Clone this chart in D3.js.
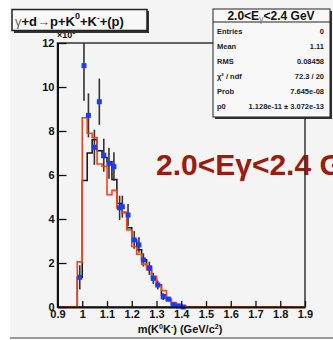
<!DOCTYPE html>
<html>
<head>
	<meta charset="utf-8">
	<title>K0 K- mass</title>
</head>
<style>
	body { margin:0; background:#fff; }
	svg { display:block; font-family:"Liberation Sans", Arial, sans-serif; }
</style>
<body>
<script src="https://cdn.jsdelivr.net/npm/d3@7"></script>
<svg width="333" height="340"></svg>
<script>

	// bins of 0.02 GeV starting at binLow
	var binLow = 0.98, binWidth = 0.02;
	var blackCounts = [1.35, 5.75, 7.0, 7.6, 7.1, 6.8, 6.6, 5.8, 4.7, 4.3, 3.6, 3.05, 2.6, 2.15, 1.85, 1.3, 1.0, 0.55, 0.3, 0.1, 0.05, 0];
	var redCounts   = [2.05, 8.6, 7.9, 7.7, 6.5, 6.4, 5.1, 5.3, 4.5, 4.3, 3.5, 2.75, 2.4, 1.95, 1.7, 1.4, 0.95, 0.75, 0.38, 0.2, 0.1, 0.04];

	// blue points (x in GeV/c2, y in units of 10^3, symmetric error)
	var pointX   = [0.99, 1.007, 1.025, 1.049, 1.069, 1.087, 1.108, 1.128, 1.151, 1.162, 1.185, 1.21, 1.229, 1.247, 1.271, 1.287, 1.305, 1.327, 1.348, 1.368, 1.388, 1.408];
	var pointY   = [1.35, 10.97, 8.71, 7.26, 9.33, 6.9, 6.53, 6.38, 4.51, 4.56, 4.18, 3.05, 2.82, 2.14, 1.76, 1.3, 1.0, 0.47, 0.36, 0.1, 0.05, 0.0];
	var pointErr = [0.55, 1.6, 1.0, 0.8, 1.05, 0.75, 0.7, 0.65, 0.55, 0.5, 0.5, 0.4, 0.35, 0.3, 0.3, 0.25, 0.2, 0.15, 0.1, 0.05, 0.05, 0.05];

	var xTicks = [0.9, 1, 1.1, 1.2, 1.3, 1.4, 1.5, 1.6, 1.7, 1.8, 1.9];
	var yTicks = [0, 2, 4, 6, 8, 10, 12];

	var statLabels = ["Entries", "Mean", "RMS", "\u03c7\u00b2 / ndf", "Prob", "p0"];
	var statValues = ["0", "1.11", "0.08458", "72.3 / 20", "7.645e-08", "1.128e-11 \u00b1 3.072e-13"];

	var svg = d3.select("svg");

	// slide background
	svg.append("rect").attr("x",10).attr("y",0).attr("width",323).attr("height",337).attr("fill","#f4f4f4");
	svg.append("rect").attr("x",10).attr("y",337).attr("width",323).attr("height",2).attr("fill","#9a9a9a");

	var x = d3.scaleLinear().domain([0.9,1.9]).range([57.5,305]);
	var y = d3.scaleLinear().domain([0,12]).range([307,43]);

	// big label behind the frame
	svg.append("text")
	   .attr("x",156).attr("y",175)
	   .attr("font-size",30).attr("font-weight","bold")
	   .attr("fill","#9c1b0d")
	   .text("2.0<E\u03b3<2.4 GeV");

	// frame
	svg.append("rect")
	   .attr("x",x(0.9)).attr("y",y(12))
	   .attr("width",x(1.9)-x(0.9)).attr("height",y(0)-y(12))
	   .attr("fill","none").attr("stroke","#333").attr("stroke-width",1.5);

	function histPoints(counts){
		var pts = [[0.9,0],[binLow,0]];
		counts.forEach(function(c,i){ pts.push([binLow + i*binWidth, c]); });
		pts.push([binLow + counts.length*binWidth, 0]);
		pts.push([1.9,0]);
		return pts;
	}

	var step = d3.line()
				 .curve(d3.curveStepAfter)
				 .x(function(d){ return x(d[0]); })
				 .y(function(d){ return y(d[1]); });

	svg.append("path").attr("d",step(histPoints(blackCounts)))
	   .attr("fill","none").attr("stroke","#111").attr("stroke-width",1.5);

	// error bars
	svg.append("g").selectAll("line")
	   .data(d3.range(pointX.length))
	   .enter().append("line")
	   .attr("x1",function(i){ return x(pointX[i]); })
	   .attr("x2",function(i){ return x(pointX[i]); })
	   .attr("y1",function(i){ return y(Math.max(0,pointY[i]-pointErr[i])); })
	   .attr("y2",function(i){ return y(Math.min(12,pointY[i]+pointErr[i])); })
	   .attr("stroke","#333").attr("stroke-width",1.6);

	svg.append("path").attr("d",step(histPoints(redCounts)))
	   .attr("fill","none").attr("stroke","#f2431f").attr("stroke-width",1.6);

	svg.append("g").selectAll("rect")
	   .data(d3.range(pointX.length))
	   .enter().append("rect")
	   .attr("x",function(i){ return x(pointX[i]) - 2.5; })
	   .attr("y",function(i){ return y(pointY[i]) - 2.5; })
	   .attr("width",5).attr("height",5)
	   .attr("fill","#1a3cff");

	// axes
	var gx = svg.append("g").attr("transform","translate(0,"+ y(0) +")");
	gx.call(d3.axisBottom(x).tickValues(d3.range(0.9,1.9001,0.02)).tickSizeInner(-3).tickSizeOuter(0).tickFormat(""));
	gx.call(d3.axisBottom(x).tickValues(xTicks).tickSizeInner(-6).tickSizeOuter(0).tickPadding(3).tickFormat(d3.format("")));

	var gy = svg.append("g").attr("transform","translate("+ x(0.9) +",0)");
	gy.call(d3.axisLeft(y).tickValues(d3.range(0,12.001,0.5)).tickSizeInner(-5).tickSizeOuter(0).tickFormat(""));
	gy.call(d3.axisLeft(y).tickValues(yTicks).tickSizeInner(-9).tickSizeOuter(0).tickPadding(3));

	svg.selectAll(".tick line").attr("stroke","#111").attr("stroke-width",1.3);
	svg.selectAll(".domain").attr("stroke","#111").attr("stroke-width",2);
	svg.selectAll(".tick text").attr("font-size",11).attr("font-weight","bold")
	   .attr("font-family","Liberation Sans, Arial, sans-serif").attr("fill","#111");

	// axis title
	var xt = svg.append("text").attr("x",180).attr("y",333).attr("text-anchor","middle")
				.attr("font-size",11).attr("font-weight","bold").attr("fill","#111");
	xt.append("tspan").text("m(K");
	xt.append("tspan").attr("dy",-4).attr("font-size",7).text("0");
	xt.append("tspan").attr("dy",4).text("K");
	xt.append("tspan").attr("dy",-4).attr("font-size",7).text("-");
	xt.append("tspan").attr("dy",4).text(") (GeV/c");
	xt.append("tspan").attr("dy",-4).attr("font-size",7).text("2");
	xt.append("tspan").attr("dy",4).text(")");

	var ex = svg.append("text").attr("x",57).attr("y",38).attr("font-size",9).attr("font-weight","bold").attr("fill","#111");
	ex.append("tspan").text("\u00d710");
	ex.append("tspan").attr("dy",-4).attr("font-size",6).text("3");

	// title box
	svg.append("rect").attr("x",14).attr("y",11).attr("width",135).attr("height",22).attr("fill","#333");
	svg.append("rect").attr("x",12).attr("y",9.5).attr("width",135).attr("height",21)
	   .attr("fill","#f8f8f8").attr("stroke","#222").attr("stroke-width",1.5);
	var tt = svg.append("text").attr("x",15).attr("y",26).attr("font-size",13).attr("font-weight","bold").attr("fill","#111");
	tt.append("tspan").attr("font-weight","normal").attr("fill","#666").text("\u03b3");
	tt.append("tspan").text("+d");
	tt.append("tspan").attr("font-weight","normal").attr("fill","#555").text("\u2192");
	tt.append("tspan").text("p+K");
	tt.append("tspan").attr("dy",-7).attr("font-size",9).text("0");
	tt.append("tspan").attr("dy",7).text("+K");
	tt.append("tspan").attr("dy",-6).attr("font-size",8).text("-");
	tt.append("tspan").attr("dy",6).text("+(p)");

	// stats box
	svg.append("rect").attr("x",215).attr("y",11).attr("width",117).attr("height",108).attr("fill","#333");
	svg.append("rect").attr("x",213).attr("y",9).attr("width",117).attr("height",108)
	   .attr("fill","#f8f8f8").attr("stroke","#222").attr("stroke-width",1);
	svg.append("line").attr("x1",213).attr("x2",330).attr("y1",22).attr("y2",22).attr("stroke","#222");
	var st = svg.append("text").attr("x",271).attr("y",20).attr("text-anchor","middle")
				.attr("font-size",12).attr("font-weight","bold").attr("fill","#111");
	st.append("tspan").text("2.0<E");
	st.append("tspan").attr("font-weight","normal").attr("fill","#777").attr("dy",2).attr("font-size",9).text("\u03b3");
	st.append("tspan").attr("dy",-2).text("<2.4 GeV");

	var rowY = d3.scaleLinear().domain([0,5]).range([34,109]);
	svg.append("g").selectAll("text").data(statLabels).enter().append("text")
	   .attr("x",217).attr("y",function(d,i){ return rowY(i); })
	   .attr("font-size",7.5).attr("font-weight","bold").attr("fill","#222")
	   .text(function(d){ return d; });
	svg.append("g").selectAll("text").data(statValues).enter().append("text")
	   .attr("x",324).attr("y",function(d,i){ return rowY(i); }).attr("text-anchor","end")
	   .attr("font-size",7.5).attr("font-weight","bold").attr("fill","#222")
	   .text(function(d){ return d; });

</script>
</body>
</html>
